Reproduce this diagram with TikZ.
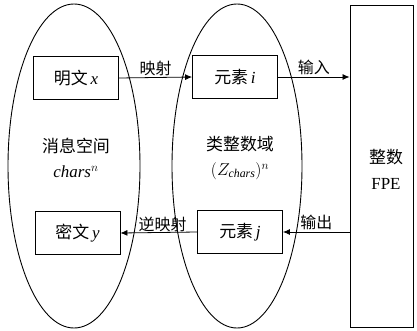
\documentclass[tikz,border=0pt]{standalone}
\usepackage{fontspec}
\setmainfont{Liberation Serif}
\newfontfamily\cjk{Noto Sans CJK SC}
\usetikzlibrary{arrows.meta}
\begin{document}
\begin{tikzpicture}[x=1bp,y=-1bp,
  every node/.style={font=\fontsize{17}{19}\selectfont},
  lbl/.style={font=\fontsize{16}{18}\selectfont,inner sep=1.5bp},
  elem/.style={draw,line width=0.9pt,minimum width=85bp,minimum height=43bp,inner sep=0pt},
  conn/.style={line width=0.8pt,-{Latex[length=7bp,width=6bp]}},
  oval/.style={draw,line width=0.9pt}]
\useasboundingbox (0,0) rectangle (417,331);
\draw[oval] (74,166) ellipse [x radius=66bp, y radius=162bp];
\draw[oval] (237,166) ellipse [x radius=65bp, y radius=162bp];
\node[draw,line width=0.9pt,minimum width=63bp,minimum height=322bp,inner sep=0pt] (fpe) at (381.5,166) {};
\node[elem] (mx) at (76,78) {{\cjk 明文}\,\textit{x}};
\node[elem] (ei) at (235,77) {{\cjk 元素}\,\textit{i}};
\node[elem] (my) at (77.5,233) {{\cjk 密文}\,\textit{y}};
\node[elem] (ej) at (240,232) {{\cjk 元素}\,\textit{j}};
\node at (76,146) {\cjk 消息空间};
\node at (76,172) {\textit{chars}$^{n}$};
\node at (240,144) {\cjk 类整数域};
\node at (240,171) {$(Z_{\mathit{chars}})^{n}$};
\node (t1) at (386,157) {\cjk 整数};
\node (t2) at (386,184) {FPE};
\draw[conn] (mx.east) -- (ei.west) node[lbl,midway,above] {\cjk 映射};
\draw[conn] (ei.east) -- (ei.east -| fpe.west) node[lbl,midway,above] {\cjk 输入};
\coordinate (o) at (fpe.west |- ej.east);
\draw[conn] (o) -- (ej.east) node[lbl,midway,above] {\cjk 输出};
\draw[conn] (ej.west) -- (my.east) node[lbl,pos=0.45,above,inner sep=0.5bp] {\cjk 逆映射};
\end{tikzpicture}
\end{document}
